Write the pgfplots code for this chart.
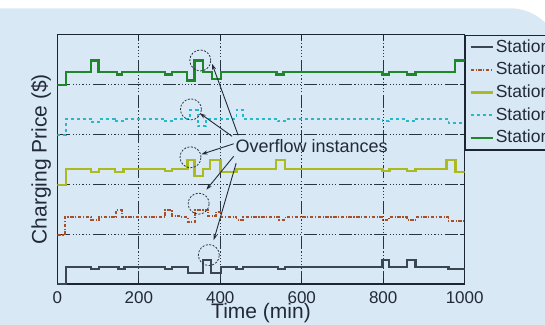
\documentclass[border=0pt]{standalone}
\usepackage{fontspec}
\setmainfont{Liberation Sans}
\usepackage{pgfplots}
\pgfplotsset{compat=1.18}
\usetikzlibrary{arrows.meta}
\definecolor{bluebg}{RGB}{217,232,245}
\definecolor{axiscol}{RGB}{28,38,50}
\definecolor{gridcol}{RGB}{40,52,64}
\definecolor{sgray}{RGB}{59,70,80}
\definecolor{sbrown}{RGB}{165,80,42}
\definecolor{syellow}{RGB}{172,186,34}
\definecolor{scyan}{RGB}{40,185,200}
\definecolor{sgreen}{RGB}{30,135,40}
\definecolor{txtcol}{RGB}{34,42,56}
\begin{document}
\begin{tikzpicture}
\useasboundingbox (0,0) rectangle (545pt,324pt);
\clip (0,0) rectangle (545pt,324pt);
\fill[white] (0,0) rectangle (545pt,324pt);
\fill[bluebg, rounded corners=50pt] (-60pt,-60pt) rectangle (560pt,315.7pt);
\begin{axis}[
  at={(57.3pt,40pt)}, anchor=south west,
  scale only axis, width=407.4pt, height=249.5pt,
  xmin=0, xmax=1000, ymin=0, ymax=5,
  xtick={0,200,400,600,800,1000},
  ytick={1,2,3,4}, yticklabels={},
  grid=major,
  major grid style={color=gridcol, line width=0.9pt,
    dash pattern=on 13pt off 2.5pt on 1.2pt off 2pt on 1.2pt off 2pt on 1.2pt off 2pt on 1.2pt off 2pt on 1.2pt off 2pt on 1.2pt off 2.5pt},
  axis line style={color=axiscol, line width=1.5pt},
  tick style={color=axiscol, line width=0.9pt},
  major tick length=5pt, tick align=inside,
  /pgf/number format/assume math mode=true,
  /pgf/number format/1000 sep={},
  ticklabel style={font=\fontsize{17}{17}\selectfont, text=txtcol},
  xticklabel style={inner sep=0pt, yshift=-7pt},
  xlabel={Time (min)},
  ylabel={Charging Price (\$)},
  xlabel style={at={(axis description cs:0.5,0)}, anchor=north, inner sep=0pt, yshift=-19.5pt, font=\fontsize{21}{21}\selectfont, text=txtcol},
  ylabel style={at={(axis description cs:-0.0265,0.5)}, anchor=base, inner sep=0pt, font=\fontsize{21}{21}\selectfont, text=txtcol},
  legend style={at={(1,1)}, anchor=north west, draw=axiscol, line width=1.3pt, fill=bluebg,
    inner xsep=4pt, inner ysep=2pt, row sep=2.7pt, column sep=1pt,
    nodes={inner sep=1pt, text height=14pt, text depth=4pt, anchor=base},
    font=\fontsize{17.5}{17.5}\selectfont, text=txtcol},
  legend cell align=left,
  legend image code/.code={\draw[#1] (0pt,5pt) -- (22pt,5pt);},
]
\addlegendimage{color=sgray, line width=2.4pt}
\addlegendentry{Station 1}
\addlegendimage{color=sbrown, line width=2.2pt, dash pattern=on 3.5pt off 1.5pt on 1.2pt off 1.5pt}
\addlegendentry{Station 2}
\addlegendimage{color=syellow, line width=2.4pt}
\addlegendentry{Station 3}
\addlegendimage{color=scyan, line width=2.2pt, dash pattern=on 3pt off 3pt}
\addlegendentry{Station 4}
\addlegendimage{color=sgreen, line width=2.4pt}
\addlegendentry{Station 5}
\addplot[forget plot, const plot, color=sgray, line width=2.2pt] coordinates {
(0,0) (21,0.34) (83,0.30) (102,0.34) (150,0.30) (165,0.34) (265,0.30) (282,0.34)
(320,0.22) (357,0.48) (377,0.22) (401,0.34) (440,0.30) (456,0.34) (542,0.30) (559,0.34)
(798,0.48) (815,0.34) (858,0.48) (879,0.34) (960,0.30) (1000,0.30)};
\addplot[forget plot, const plot, color=sbrown, line width=1.8pt, dash pattern=on 3.5pt off 1.5pt on 1.2pt off 1.5pt] coordinates {
(0,0.98) (18,1.34) (83,1.29) (102,1.34) (145,1.48) (158,1.34) (265,1.48) (282,1.37) (300,1.34)
(320,1.24) (338,1.48) (370,1.36) (390,1.45) (403,1.34) (440,1.29) (456,1.34) (545,1.29) (560,1.34)
(798,1.29) (815,1.34) (858,1.29) (879,1.34) (960,1.27) (1000,1.27)};
\addplot[forget plot, const plot, color=syellow, line width=2.4pt] coordinates {
(0,1.99) (21,2.31) (83,2.24) (102,2.31) (141,2.24) (162,2.31) (265,2.26) (282,2.31)
(320,2.49) (337,2.17) (358,2.31) (375,2.49) (401,2.24) (440,2.31) (537,2.49) (559,2.31)
(798,2.26) (815,2.31) (858,2.26) (879,2.31) (955,2.49) (977,2.24) (1000,2.24)};
\addplot[forget plot, const plot, color=scyan, line width=1.8pt, dash pattern=on 3pt off 3pt] coordinates {
(0,2.98) (21,3.31) (83,3.24) (102,3.31) (141,3.26) (162,3.31) (265,3.26) (282,3.31)
(325,3.48) (345,3.16) (365,3.31) (440,3.49) (456,3.31) (542,3.26) (559,3.31)
(798,3.26) (815,3.31) (858,3.26) (879,3.31) (960,3.23) (1000,3.23)};
\addplot[forget plot, const plot, color=sgreen, line width=2.2pt] coordinates {
(0,3.98) (21,4.25) (82,4.48) (101,4.25) (146,4.20) (158,4.25) (265,4.20) (282,4.25)
(319,4.08) (337,4.48) (358,4.25) (380,4.11) (401,4.25) (538,4.20) (555,4.25)
(798,4.20) (815,4.25) (858,4.20) (879,4.25) (977,4.48) (1000,4.48)};
% annotation
\begin{scope}[gridcol, line width=0.8pt, dash pattern=on 2pt off 1.5pt]
\draw (axis cs:351,4.48) circle[radius=10.5pt];
\draw (axis cs:328,3.50) circle[radius=10.5pt];
\draw (axis cs:327,2.54) circle[radius=10.5pt];
\draw (axis cs:347,1.61) circle[radius=10.5pt];
\draw (axis cs:372,0.58) circle[radius=10.5pt];
\end{scope}
\begin{scope}[color=txtcol, line width=0.9pt, -{Stealth[length=6pt,width=4pt]}]
\draw (axis cs:444,2.98) -- (axis cs:380,4.41);
\draw (axis cs:429,2.96) -- (axis cs:350,3.42);
\draw (axis cs:433,2.81) -- (axis cs:354,2.60);
\draw (axis cs:433,2.56) -- (axis cs:366,1.89);
\draw (axis cs:439,2.42) -- (axis cs:384,0.88);
\end{scope}
\node[anchor=base west, inner sep=0pt, text=txtcol, font=\fontsize{18}{18}\selectfont] at (axis cs:437,2.64) {Overflow instances};
\end{axis}
\end{tikzpicture}
\end{document}
